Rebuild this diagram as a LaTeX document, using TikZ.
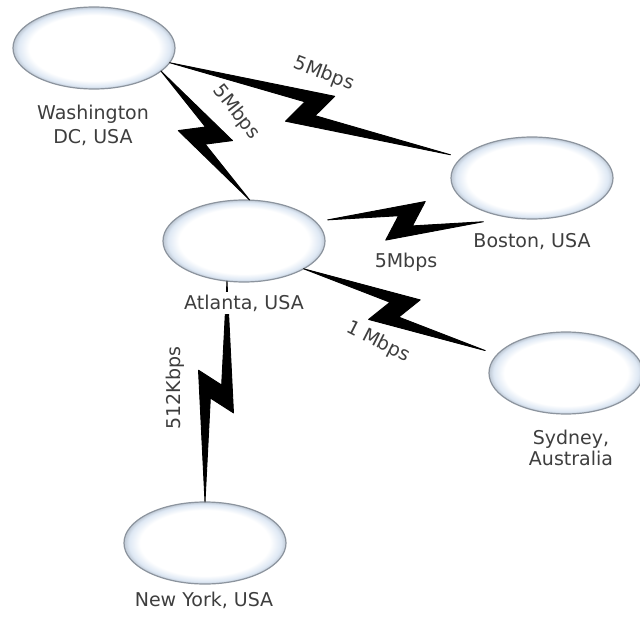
\documentclass[tikz,border=0pt]{standalone}
\usepackage{fontspec}
\setmainfont{DejaVu Sans}
\usetikzlibrary{shapes.geometric,calc}
\definecolor{rimc}{RGB}{222,232,244}
\definecolor{rimd}{RGB}{190,200,212}
\definecolor{bordc}{RGB}{140,148,158}
\definecolor{txtc}{RGB}{62,62,62}
\pgfdeclareradialshading{rimshade}{\pgfpoint{0bp}{0bp}}{color(0bp)=(white); color(20bp)=(white); color(23.5bp)=(rimc); color(25bp)=(rimd); color(50bp)=(rimd)}
\newcommand\zbolt[2]{%
  \coordinate (zm) at ($(#1)!0.5!(#2)$);
  \fill[boltstyle] (#1) -- ($(zm)!27.6pt!45:(#2)$) -- ($(zm)!8.6pt!-35.5:(#2)$) -- (#2)
    -- ($(zm)!27.6pt!-135:(#2)$) -- ($(zm)!8.6pt!144.5:(#2)$) -- cycle;}
\begin{document}
\begin{tikzpicture}[x=1pt,y=-1pt,
  site/.style={ellipse, minimum width=162pt, minimum height=82pt, inner sep=0pt, outer sep=0pt,
    shade, shading=rimshade, draw=bordc, line width=1.2pt},
  lbl/.style={font=\fontsize{19}{24}\selectfont, text=txtc, align=center, inner sep=1pt},
  boltstyle/.style={fill=black, draw=black, line width=0.9pt, line join=round}]
\useasboundingbox[fill=white] (0,0) rectangle (640,618);
% sites
\node[site] (wash) at (94,48) {};
\node[site] (bos) at (532,178) {};
\node[site] (atl) at (244,241) {};
\node[site, minimum width=154pt] (syd) at (566,373) {};
\node[site] (ny) at (205,543) {};
% link end points
\coordinate (wbB) at ([shift={(-11,-3)}]bos.164);
\coordinate (abA) at ([shift={(11,-3)}]atl.14);
\coordinate (abB) at ([shift={(-9,8)}]bos.-138);
\coordinate (asB) at ([shift={(-13,-3)}]syd.164);
% links
\zbolt{wash.-11}{wbB}
\zbolt{wash.-19}{atl.82}
\zbolt{abA}{abB}
\zbolt{atl.-25}{asB}
\zbolt{atl.-113}{ny.90}
% site labels
\node[lbl] (washl) at (93,125) {Washington\\DC, USA};
\node[lbl] (bosl) at (532,242) {Boston, USA};
\node[lbl, fill=white, inner ysep=3pt] (atll) at (244,303) {Atlanta, USA};
\node[lbl, font=\fontsize{19}{20.5}\selectfont] (sydl) at (571,448) {Sydney,\\Australia};
\node[lbl] (nyl) at (204,600) {New York, USA};
% link labels
\node[lbl, rotate=-21] (lwb) at (324,74) {5Mbps};
\node[lbl, rotate=-52] (lwa) at (236,112) {5Mbps};
\node[lbl] (lab) at (406,262) {5Mbps};
\node[lbl, rotate=-27] (las) at (378,342) {1 Mbps};
\node[lbl, rotate=90] (lan) at (175,388) {512Kbps};
\end{tikzpicture}
\end{document}
